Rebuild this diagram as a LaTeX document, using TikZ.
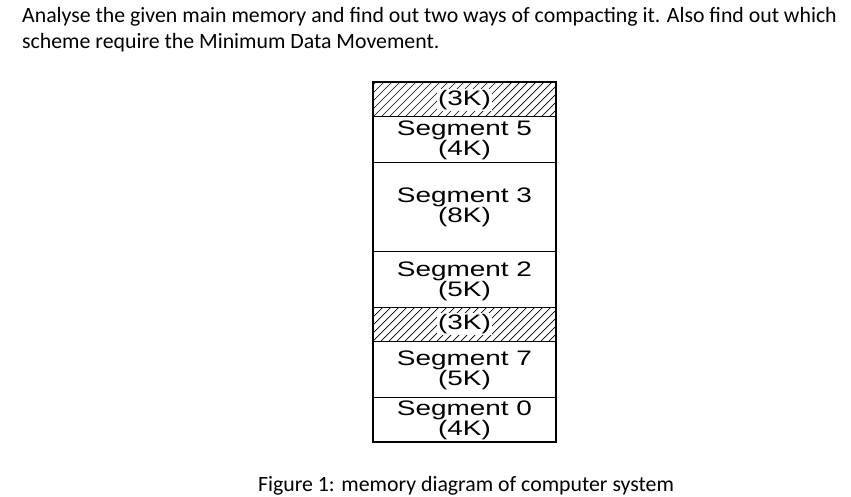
\documentclass[tikz,border=0pt]{standalone}
\usepackage{fontspec}
\setmainfont{Carlito}
\newfontfamily\arialf[FakeStretch=1.33]{Liberation Sans}
\begin{document}
\begin{tikzpicture}[x=1pt,y=-1pt,
  seg/.style={font=\arialf\fontsize{21}{20}\selectfont, align=center, inner sep=0pt},
  txt/.style={font=\fontsize{21.8}{26}\selectfont, anchor=base west, inner sep=0pt}]
\useasboundingbox (0,0) rectangle (851,497);
\node[txt] (l1) at (22,23) {Analyse the given main memory and find out two ways of compacting it. Also find out which};
\node[txt] (l2) at (22,49) {scheme require the Minimum Data Movement.};
% hatched regions
\foreach \ya/\yb in {82/117, 307/341}{
  \begin{scope}
  \clip (373,\ya) rectangle (556,\yb);
  \foreach \k in {-40,-32,...,230}{
    \draw[line width=0.7pt] (373+\k,\yb) -- ++(40,-40);
  }
  \end{scope}
}
\draw[line width=1.2pt] (373,82) rectangle (556,442);
\foreach \y in {117,163,251,307,341,397}{ \draw[line width=1pt] (373,\y) -- (556,\y); }
\node[seg, fill=white, inner sep=1pt] (h1) at (464.5,100) {(3K)};
\node[seg] (s5) at (464.5,140) {Segment 5\\(4K)};
\node[seg] (s3) at (464.5,207) {Segment 3\\(8K)};
\node[seg] (s2) at (464.5,281) {Segment 2\\(5K)};
\node[seg, fill=white, inner sep=1pt] (h2) at (464.5,324) {(3K)};
\node[seg] (s7) at (464.5,370) {Segment 7\\(5K)};
\node[seg] (s0) at (464.5,420) {Segment 0\\(4K)};
\node[txt, anchor=base] (cap) at (466,491) {Figure 1: memory diagram of computer system};
\end{tikzpicture}
\end{document}
